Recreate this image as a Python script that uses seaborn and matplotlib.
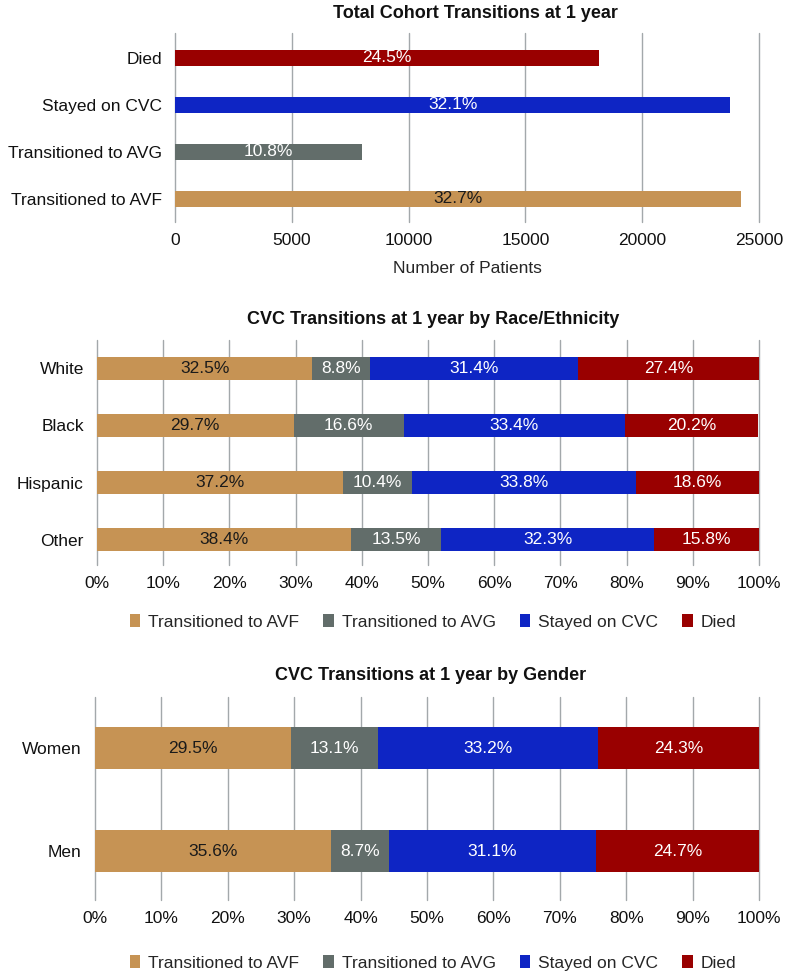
import numpy as np
import pandas as pd
import matplotlib
matplotlib.use("Agg")
import matplotlib.pyplot as plt
from matplotlib.patches import Patch
import seaborn as sns

sns.set_style("white")
plt.rcParams["font.family"] = ["Liberation Sans", "DejaVu Sans"]

# ---------------- data ----------------
statuses = ["Transitioned to AVF", "Transitioned to AVG", "Stayed on CVC", "Died"]
colors = ["#C69354", "#626D6A", "#0E25C4", "#990000"]
text_colors = ["#1a1a1a", "white", "white", "white"]

total_patients = [24210, 7990, 23770, 18140]  # AVF, AVG, CVC, Died

race_groups = ["White", "Black", "Hispanic", "Other"]
race_avf = [32.5, 29.7, 37.2, 38.4]
race_avg = [8.8, 16.6, 10.4, 13.5]
race_cvc = [31.4, 33.4, 33.8, 32.3]
race_died = [27.4, 20.2, 18.6, 15.8]

gender_groups = ["Women", "Men"]
gender_avf = [29.5, 35.6]
gender_avg = [13.1, 8.7]
gender_cvc = [33.2, 31.1]
gender_died = [24.3, 24.7]

count_ticks = [0, 5000, 10000, 15000, 20000, 25000]
pct_ticks = [0, 10, 20, 30, 40, 50, 60, 70, 80, 90, 100]

W, H = 785, 974
fig = plt.figure(figsize=(W / 100, H / 100), dpi=100)


def add_ax(left, right, top, bottom):
    return fig.add_axes([left / W, 1 - bottom / H, (right - left) / W, (bottom - top) / H])


GRID = "#A3A8AB"
FS = 12.5
TFS = 13


def style_ax(ax):
    for s in ax.spines.values():
        s.set_visible(False)
    ax.grid(axis="x", color=GRID, linewidth=1.0)
    ax.grid(axis="y", visible=False)
    ax.set_axisbelow(True)
    ax.tick_params(axis="both", length=0, labelsize=FS, colors="#111111")
    ax.tick_params(axis="y", pad=9.5)
    ax.tick_params(axis="x", pad=8)
    ax.set_ylabel("")
    ax.set_xlabel("")
    for gl in ax.xaxis.get_gridlines():
        gl.set_clip_on(False)


def title(text, y_baseline, xc):
    fig.text(xc / W, 1 - y_baseline / H, text, ha="center", va="baseline",
             fontsize=TFS, fontweight="bold", color="#111111")


# ---------------- top chart ----------------
ax1 = add_ax(175, 759, 33, 222)
order = ["Died", "Stayed on CVC", "Transitioned to AVG", "Transitioned to AVF"]
df1 = pd.DataFrame({"status": statuses, "n": total_patients})
pal1 = dict(zip(statuses, colors))
sns.barplot(data=df1, y="status", x="n", order=order, hue="status", palette=pal1,
            legend=False, width=0.34, ax=ax1, saturation=1, linewidth=0)
tot = sum(total_patients)
for i, st in enumerate(order):
    k = statuses.index(st)
    v = total_patients[k]
    ax1.text(v / 2, i, f"{100 * v / tot:.1f}%", ha="center", va="center",
             color=text_colors[k], fontsize=FS)
ax1.set_xlim(0, 25000)
ax1.set_ylim(3.49, -0.53)
ax1.set_xticks(count_ticks)
style_ax(ax1)
ax1.set_xlabel("Number of Patients", fontsize=FS, labelpad=9)
title("Total Cohort Transitions at 1 year", 18.5, 475)


def stacked(ax, groups, parts, width):
    cum = np.cumsum(np.array(parts), axis=0)
    for k in range(len(parts) - 1, -1, -1):
        d = pd.DataFrame({"group": groups, "v": cum[k]})
        sns.barplot(data=d, y="group", x="v", order=groups, color=colors[k],
                    width=width, ax=ax, saturation=1, linewidth=0)
    for k in range(len(parts)):
        for i, g in enumerate(groups):
            start = cum[k][i] - parts[k][i]
            ax.text(start + parts[k][i] / 2, i, f"{parts[k][i]:.1f}%", ha="center",
                    va="center", color=text_colors[k], fontsize=FS)
    ax.set_xlim(0, 100)
    ax.set_xticks(pct_ticks)
    ax.set_xticklabels([f"{t}%" for t in pct_ticks])
    style_ax(ax)


# ---------------- middle chart ----------------
ax2 = add_ax(97, 759, 340, 565)
stacked(ax2, race_groups, [race_avf, race_avg, race_cvc, race_died], 0.40)
ax2.set_ylim(3.44, -0.49)
title("CVC Transitions at 1 year by Race/Ethnicity", 324.5, 433)

# ---------------- bottom chart ----------------
ax3 = add_ax(95, 759, 697, 900)
stacked(ax3, gender_groups, [gender_avf, gender_avg, gender_cvc, gender_died], 0.40)
ax3.set_ylim(1.475, -0.495)
title("CVC Transitions at 1 year by Gender", 679.5, 431)

handles = [Patch(facecolor=c, edgecolor="none", label=s) for s, c in zip(statuses, colors)]
for ycen in (622, 963):
    fig.legend(handles=handles, loc="center", bbox_to_anchor=(433 / W, 1 - ycen / H),
               ncol=4, frameon=False, fontsize=FS, handlelength=0.6, handleheight=0.8,
               handletextpad=0.45, columnspacing=1.4, borderaxespad=0, borderpad=0)

fig.savefig("out.png", dpi=100)
